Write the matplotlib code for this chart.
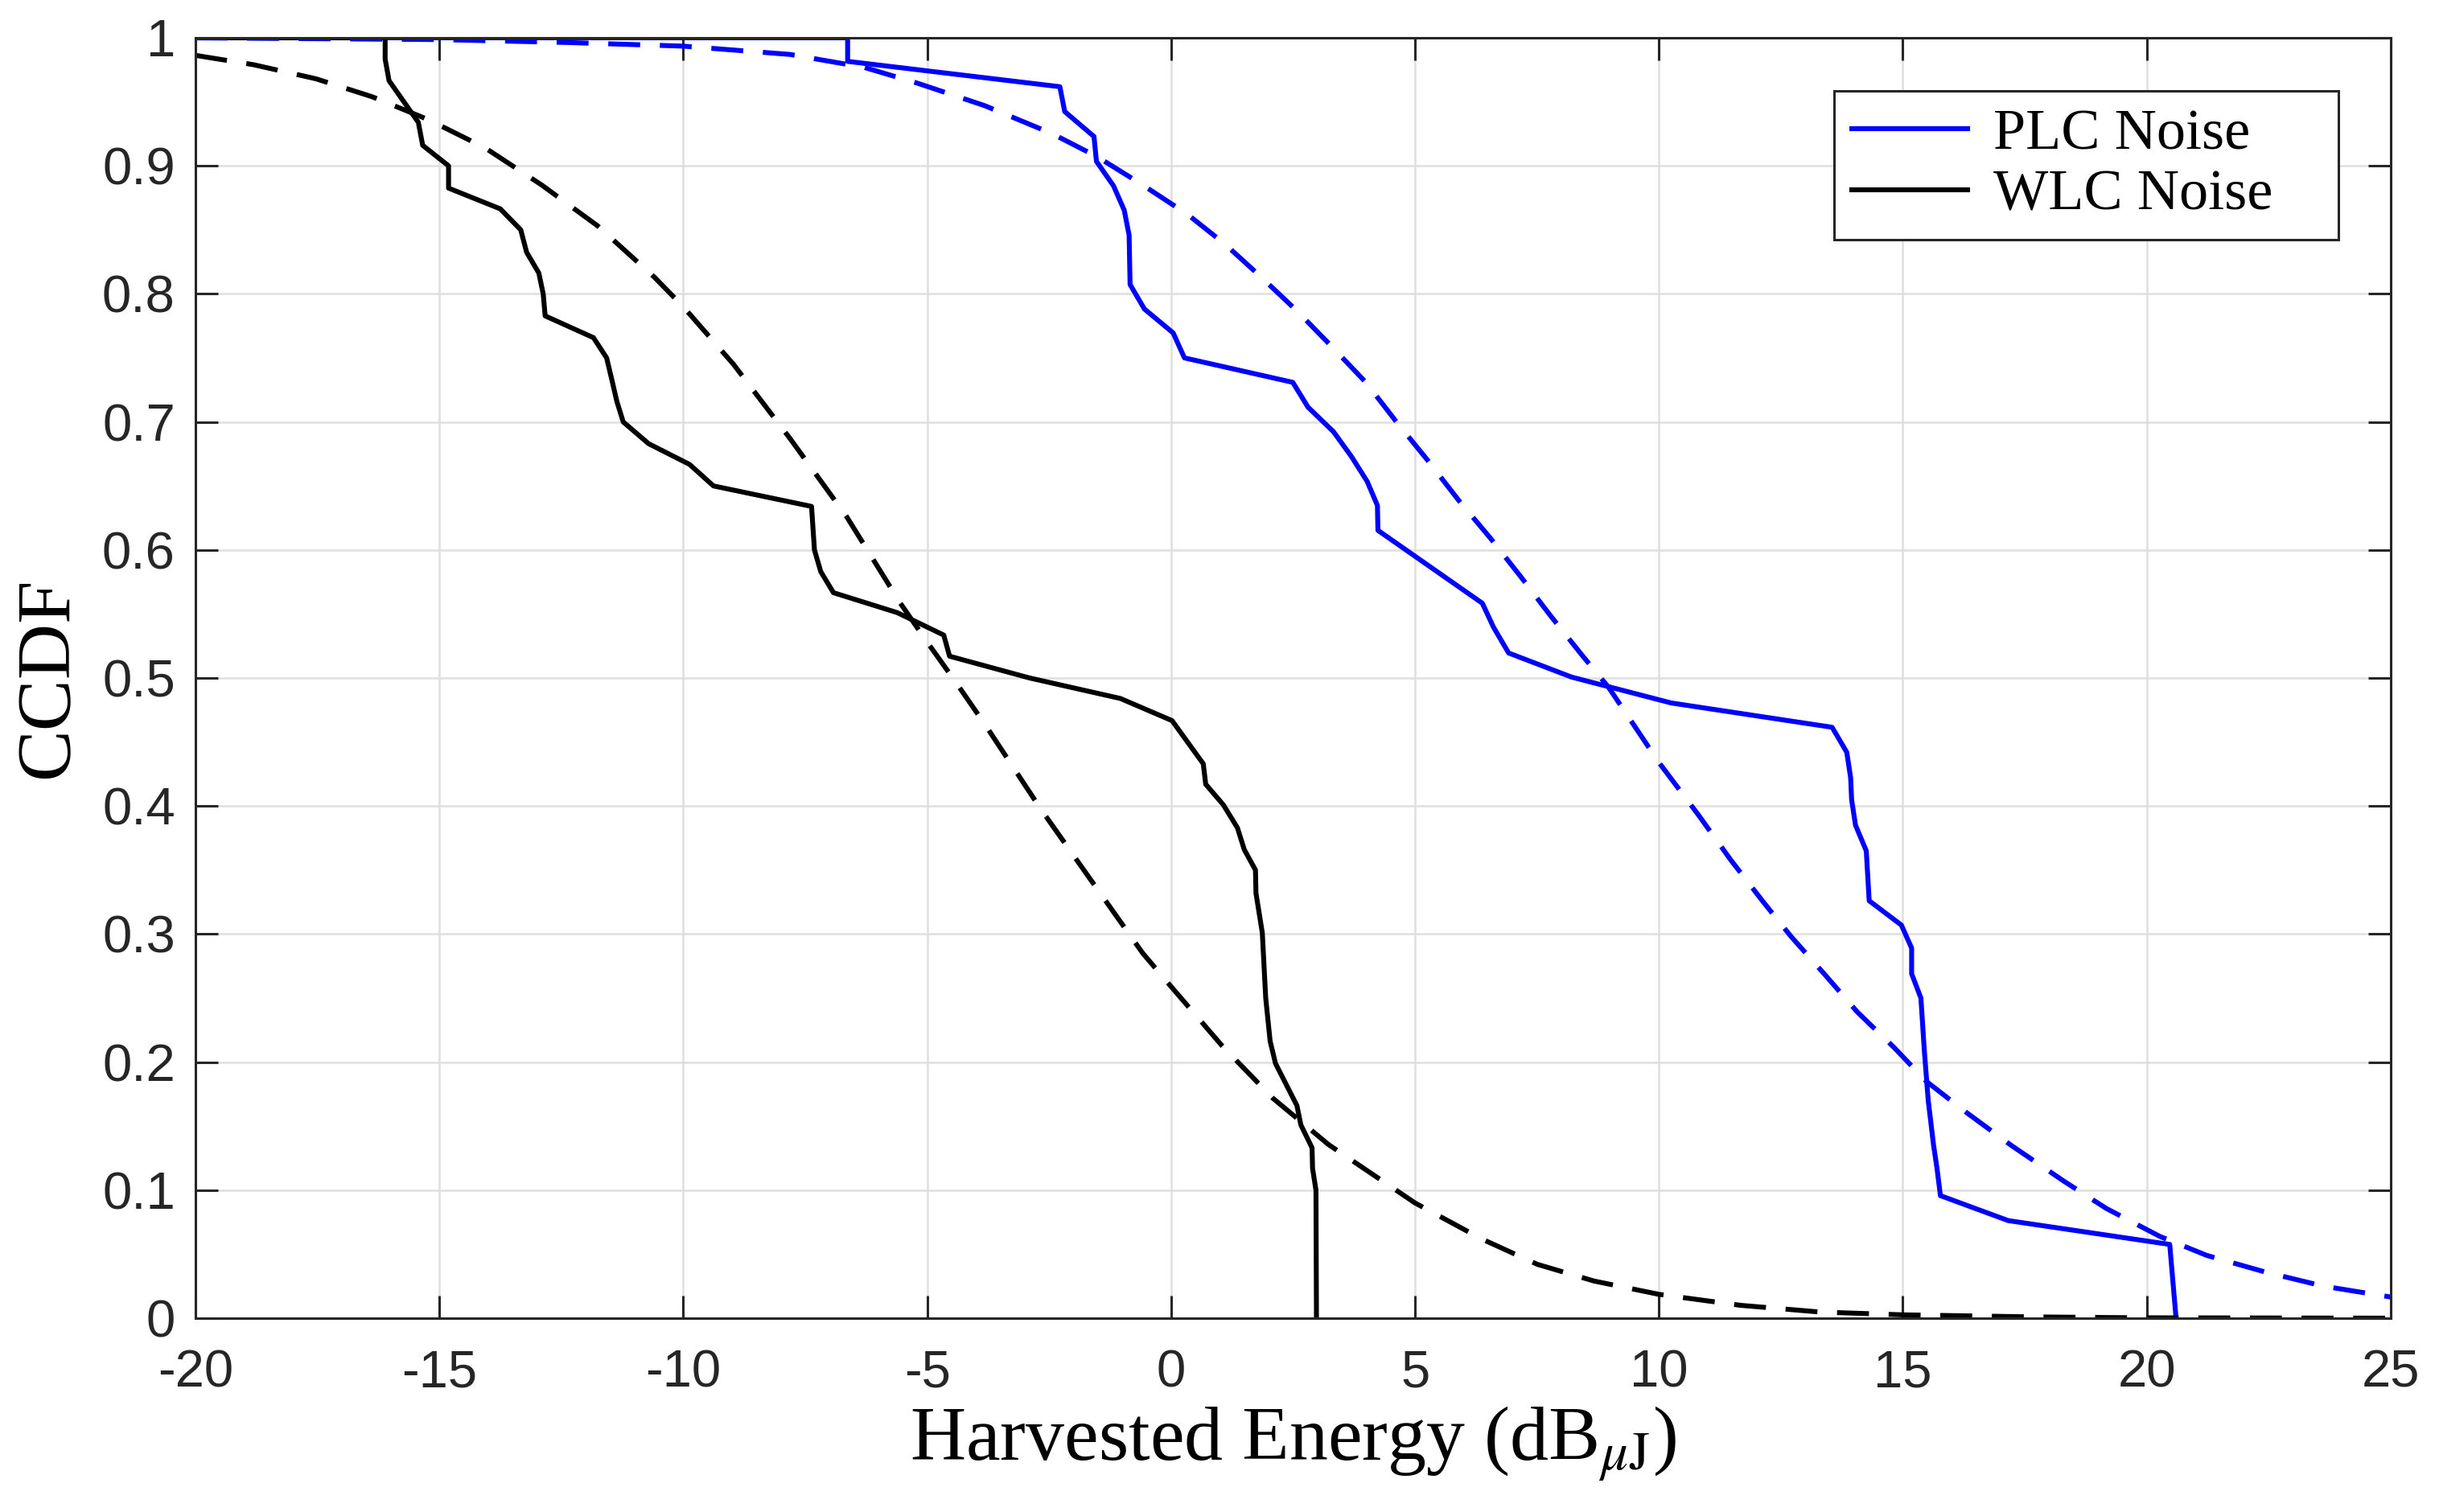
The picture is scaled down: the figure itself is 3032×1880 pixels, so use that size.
import matplotlib
matplotlib.use("Agg")
import matplotlib.pyplot as plt

# values
plc_x = [-20, -6.63, -6.63, -2.28, -2.18, -1.58, -1.53, -1.18, -0.96, -0.86, -0.85, -0.84,
         -0.547, 0.043, 0.274, 2.495, 2.807, 3.328, 3.698, 4.02, 4.23, 4.24, 6.38, 6.61,
         6.92, 8.21, 10.25, 13.55, 13.85, 13.93, 13.95, 14.03, 14.25, 14.31, 14.97, 15.18,
         15.18, 15.37, 15.44, 15.52, 15.63, 15.70, 15.77, 17.16, 20.47, 20.60]
plc_y = [1.0, 1.0, 0.9816, 0.9618, 0.9424, 0.9229, 0.9035, 0.8844, 0.8653, 0.8458, 0.826, 0.8073,
         0.7882, 0.7695, 0.75, 0.7309, 0.7115, 0.6924, 0.6729, 0.6535, 0.6347, 0.6153, 0.5584, 0.5396,
         0.5195, 0.5007, 0.4805, 0.4615, 0.442, 0.422, 0.4048, 0.385, 0.365, 0.326, 0.307, 0.289,
         0.269, 0.25, 0.209, 0.170, 0.135, 0.117, 0.0957, 0.0762, 0.0576, 0.0]

wlc_x = [-20, -16.11, -16.11, -16.03, -15.43, -15.34, -14.81, -14.81, -13.75, -13.33, -13.21,
         -12.96, -12.87, -12.83, -11.84, -11.57, -11.46, -11.36, -11.23, -10.71, -9.87, -9.38,
         -7.37, -7.31, -7.18, -6.92, -5.61, -4.66, -4.54, -2.9, -1.04, 0.02, 0.66, 0.71, 1.07,
         1.36, 1.50, 1.73, 1.74, 1.87, 1.94, 2.03, 2.14, 2.58, 2.66, 2.89, 2.90, 2.97, 2.98]
wlc_y = [1.0, 1.0, 0.9834, 0.9665, 0.934, 0.916, 0.900, 0.8826, 0.8664, 0.850, 0.8325,
         0.8163, 0.800, 0.7828, 0.7658, 0.750, 0.7324, 0.716, 0.700, 0.683, 0.6668, 0.650,
         0.634, 0.60, 0.583, 0.5666, 0.551, 0.5335, 0.517, 0.500, 0.484, 0.4667, 0.433, 0.417, 0.401,
         0.383, 0.366, 0.350, 0.332, 0.301, 0.250, 0.2165, 0.199, 0.166, 0.151, 0.133, 0.117, 0.100, 0.0]

plc_fit_x = [-20, -15, -12.44, -10, -7.81, -6.3, -5.21, -3.82, -2.43, -1.51, -0.58, 0.34, 1.10,
             1.85, 2.60, 3.29, 3.99, 4.62, 5.26, 5.89, 6.55, 7.17, 7.77, 8.42, 8.97, 10, 10.81,
             11.47, 12.12, 12.71, 13.42, 14.07, 14.83, 15.48, 16.29, 17.22, 18.30, 19.17, 20.26,
             21.23, 22.43, 23.62, 25]
plc_fit_y = [1.0, 0.9986, 0.9964, 0.9935, 0.987, 0.977, 0.9647, 0.947, 0.925, 0.907, 0.885, 0.862, 0.839,
             0.813, 0.786, 0.759, 0.731, 0.70, 0.670, 0.639, 0.609, 0.579, 0.549, 0.518, 0.4926, 0.434, 0.393,
             0.358, 0.326, 0.298, 0.2675, 0.239, 0.211, 0.185, 0.161, 0.135, 0.107, 0.0857, 0.064,
             0.049, 0.036, 0.025, 0.0165]

wlc_fit_x = [-20, -18.81, -17.53, -16.38, -15.22, -14.06, -12.9, -11.75, -10.59, -10, -8.97, -7.81,
             -6.65, -5.56, -4.98, -4.4, -3.82, -2.66, -1.51, -0.58, 0, 1.04, 2.08, 3.23, 5, 6.36,
             7.51, 8.67, 10, 11.68, 13.3, 15, 17.65, 19.8, 25]
wlc_fit_y = [0.9863, 0.979, 0.968, 0.954, 0.936, 0.914, 0.885, 0.853, 0.813, 0.79, 0.745, 0.687,
             0.626, 0.559, 0.527, 0.496, 0.464, 0.397, 0.335, 0.285, 0.259, 0.213, 0.172, 0.1355, 0.090, 0.062,
             0.042, 0.029, 0.0186, 0.010, 0.0048, 0.0026, 0.001, 0.0003, 0.0]

xticks = [-20, -15, -10, -5, 0, 5, 10, 15, 20, 25]
yticks = [0, 0.1, 0.2, 0.3, 0.4, 0.5, 0.6, 0.7, 0.8, 0.9, 1]
ytick_labels = ['0', '0.1', '0.2', '0.3', '0.4', '0.5', '0.6', '0.7', '0.8', '0.9', '1']

plt.rcParams['mathtext.fontset'] = 'stix'
axcol = '#262626'

fig = plt.figure(figsize=(15.16, 9.4), dpi=200)
ax = fig.add_axes([0.0801, 0.1282, 0.9001, 0.8468])

dash = (6.5, 4)
ax.plot(plc_x, plc_y, color='#0000FF', lw=2.2, label='PLC Noise')
ax.plot(wlc_x, wlc_y, color='black', lw=2.2, label='WLC Noise')
ax.plot(plc_fit_x, plc_fit_y, color='#0000FF', lw=2.2, dashes=dash)
ax.plot(wlc_fit_x, wlc_fit_y, color='black', lw=2.2, dashes=dash)

ax.set_xlim(-20, 25)
ax.set_ylim(0, 1)
ax.set_xticks(xticks)
ax.set_xticklabels([str(t) for t in xticks])
ax.set_yticks(yticks)
ax.set_yticklabels(ytick_labels)
ax.grid(True, color='#dfdfdf', lw=0.9)
ax.set_axisbelow(True)

for s in ax.spines.values():
    s.set_color(axcol)
    s.set_linewidth(1.1)
ax.tick_params(direction='in', length=10, width=1.1, colors=axcol, top=True, right=True,
               labelsize=23.5)
ax.tick_params(axis='x', pad=14)
ax.tick_params(axis='y', pad=9)
for lab in ax.get_xticklabels() + ax.get_yticklabels():
    lab.set_family('Liberation Sans')

ax.set_xlabel(r'Harvested Energy (dB$_{\mu\mathrm{J}}$)', family='Liberation Serif',
              fontsize=34.5, labelpad=3)
ax.set_ylabel('CCDF', family='Liberation Serif', fontsize=34.5, labelpad=8)

leg = ax.legend(loc='upper left', bbox_to_anchor=(0.7464, 0.8486, 0.2298, 0.1099),
                mode='expand', borderaxespad=0, fancybox=False, framealpha=1,
                edgecolor=axcol, prop={'family': 'Liberation Serif', 'size': 26},
                handlelength=2.0, handletextpad=0.45, labelspacing=0.14, borderpad=0.3)
leg.get_frame().set_linewidth(1.1)

fig.savefig('out.png', dpi=200)
